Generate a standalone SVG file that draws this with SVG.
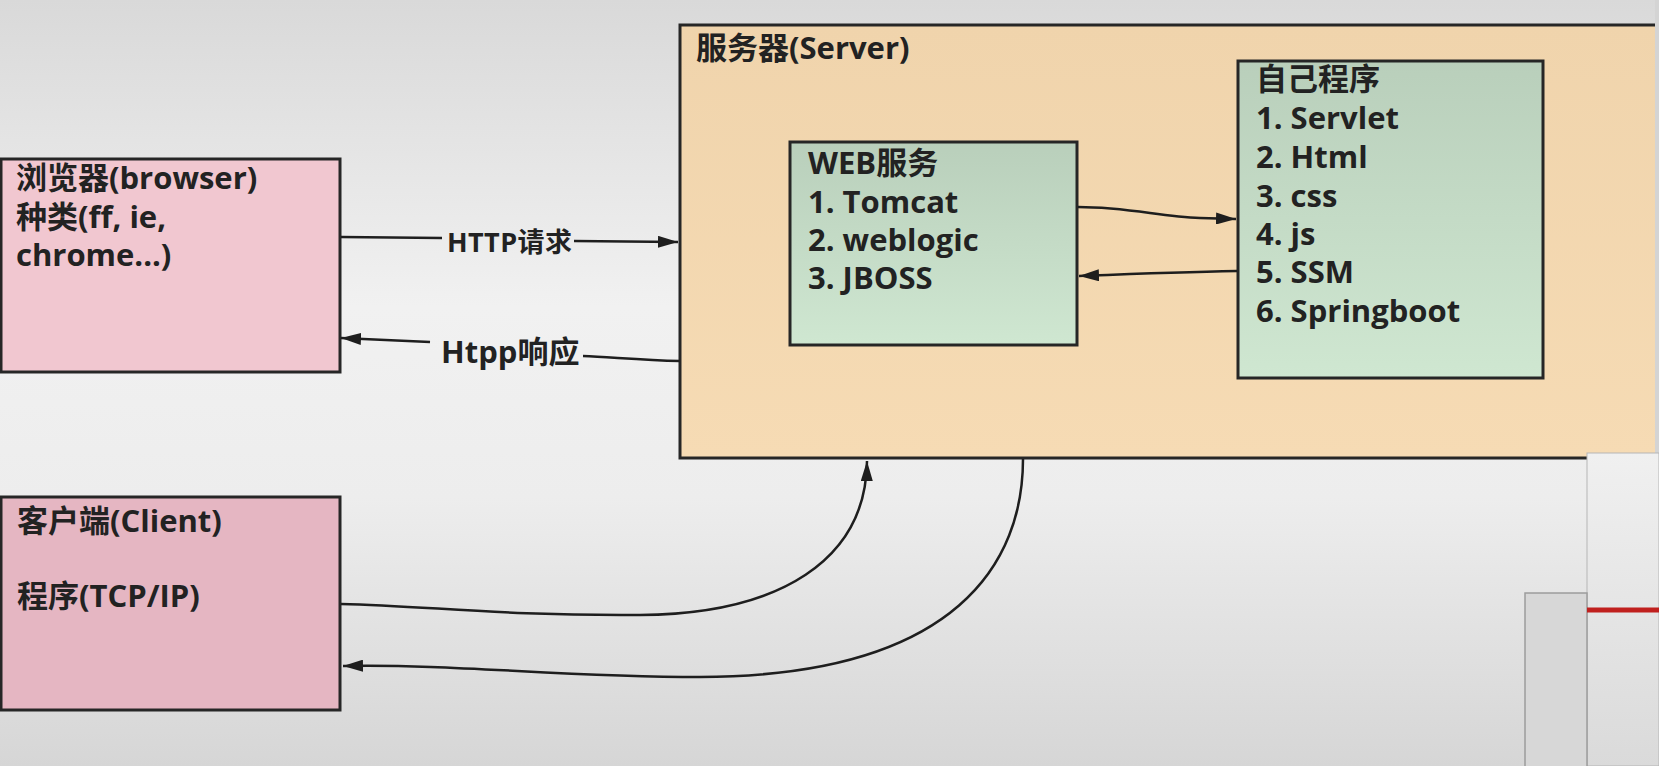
<svg xmlns="http://www.w3.org/2000/svg" width="1659" height="766" viewBox="0 0 1659 766">
<defs>
<linearGradient id="bg" x1="0" y1="0" x2="0" y2="1">
<stop offset="0" stop-color="#d9d9d9"/>
<stop offset="0.4" stop-color="#f1f1f1"/>
<stop offset="0.65" stop-color="#ededed"/>
<stop offset="1" stop-color="#d6d6d6"/>
</linearGradient>
<linearGradient id="green" x1="0" y1="0" x2="0" y2="1">
<stop offset="0" stop-color="#b9cfbb"/>
<stop offset="1" stop-color="#cfe7d1"/>
</linearGradient>
<linearGradient id="peach" x1="0" y1="0" x2="0" y2="1">
<stop offset="0" stop-color="#f0d4ac"/>
<stop offset="1" stop-color="#f6dbb4"/>
</linearGradient>
<linearGradient id="panel" x1="0" y1="0" x2="0" y2="1">
<stop offset="0" stop-color="#f0f0f0"/>
<stop offset="1" stop-color="#dadada"/>
</linearGradient>
<marker id="arr" markerUnits="userSpaceOnUse" markerWidth="20" markerHeight="12" refX="20" refY="6" orient="auto" viewBox="0 0 20 12">
<path d="M0,0 L20,6 L0,12 z" fill="#1e1e1e"/>
</marker>
</defs>
<style>
.box{stroke:#262626;stroke-width:3}
.t{font-family:"Open Sans","Noto Sans CJK SC",sans-serif;font-weight:700;font-size:31px;fill:#222}
.lbl{font-family:"Open Sans","Noto Sans CJK SC",sans-serif;font-weight:700;fill:#222}
.c{fill:none;stroke:#1e1e1e;stroke-width:2.5}
</style>
<rect x="0" y="0" width="1659" height="766" fill="url(#bg)"/>

<g id="server">
<rect class="box" x="680" y="25" width="985" height="433" fill="url(#peach)"/>
<text class="t" x="696" y="59">服务器(Server)</text>
</g>

<g id="web">
<rect class="box" x="790" y="142" width="287" height="203" fill="url(#green)"/>
<text class="t" x="808" y="174">WEB服务</text>
<text class="t" x="808" y="213">1. Tomcat</text>
<text class="t" x="808" y="251">2. weblogic</text>
<text class="t" x="808" y="289">3. JBOSS</text>
</g>

<g id="app">
<rect class="box" x="1238" y="61" width="305" height="317" fill="url(#green)"/>
<text class="t" x="1256" y="90">自己程序</text>
<text class="t" x="1256" y="129">1. Servlet</text>
<text class="t" x="1256" y="168">2. Html</text>
<text class="t" x="1256" y="207">3. css</text>
<text class="t" x="1256" y="245">4. js</text>
<text class="t" x="1256" y="283">5. SSM</text>
<text class="t" x="1256" y="322">6. Springboot</text>
</g>

<g id="browser">
<rect class="box" x="1" y="159" width="339" height="213" fill="#f1c7d0"/>
<text class="t" x="16" y="189">浏览器(browser)</text>
<text class="t" x="16" y="228">种类(ff, ie,</text>
<text class="t" x="16" y="266">chrome...)</text>
</g>

<g id="client">
<rect class="box" x="1" y="497" width="339" height="213" fill="#e5b6c2"/>
<text class="t" x="17" y="532">客户端(Client)</text>
<text class="t" x="17" y="607">程序(TCP/IP)</text>
</g>

<g id="connectors">
<path class="c" d="M341,237 L442,238"/>
<path class="c" d="M574,241 L678,242" marker-end="url(#arr)"/>
<text class="lbl" x="447" y="252" font-size="27" letter-spacing="0.4">HTTP请求</text>
<path class="c" d="M680,361 C640,360 610,357 583,356"/>
<path class="c" d="M430,342 L341,338" marker-end="url(#arr)"/>
<text class="lbl" x="441" y="363" font-size="31">Htpp响应</text>
<path class="c" d="M1078,207 C1130,207 1160,217 1200,218 L1236,219" marker-end="url(#arr)"/>
<path class="c" d="M1237,271 C1180,272 1130,274 1079,276" marker-end="url(#arr)"/>
<path class="c" d="M341,604 C430,606 500,616 640,615 C780,614 866,560 867,461" marker-end="url(#arr)"/>
<path class="c" d="M1023,459 C1023,560 960,676 700,677 C560,677 460,664 343,666" marker-end="url(#arr)"/>
</g>

<rect x="1655" y="0" width="4" height="453" fill="#d4d4d4"/>
<rect x="1587" y="453" width="72" height="313" fill="url(#panel)" stroke="#b5b5b5" stroke-width="1"/>
<rect x="1525" y="593" width="62" height="180" fill="#d7d7d7" stroke="#9c9c9c" stroke-width="1.5"/>
<line x1="1587" y1="610" x2="1659" y2="610" stroke="#c0201e" stroke-width="5"/>
</svg>
